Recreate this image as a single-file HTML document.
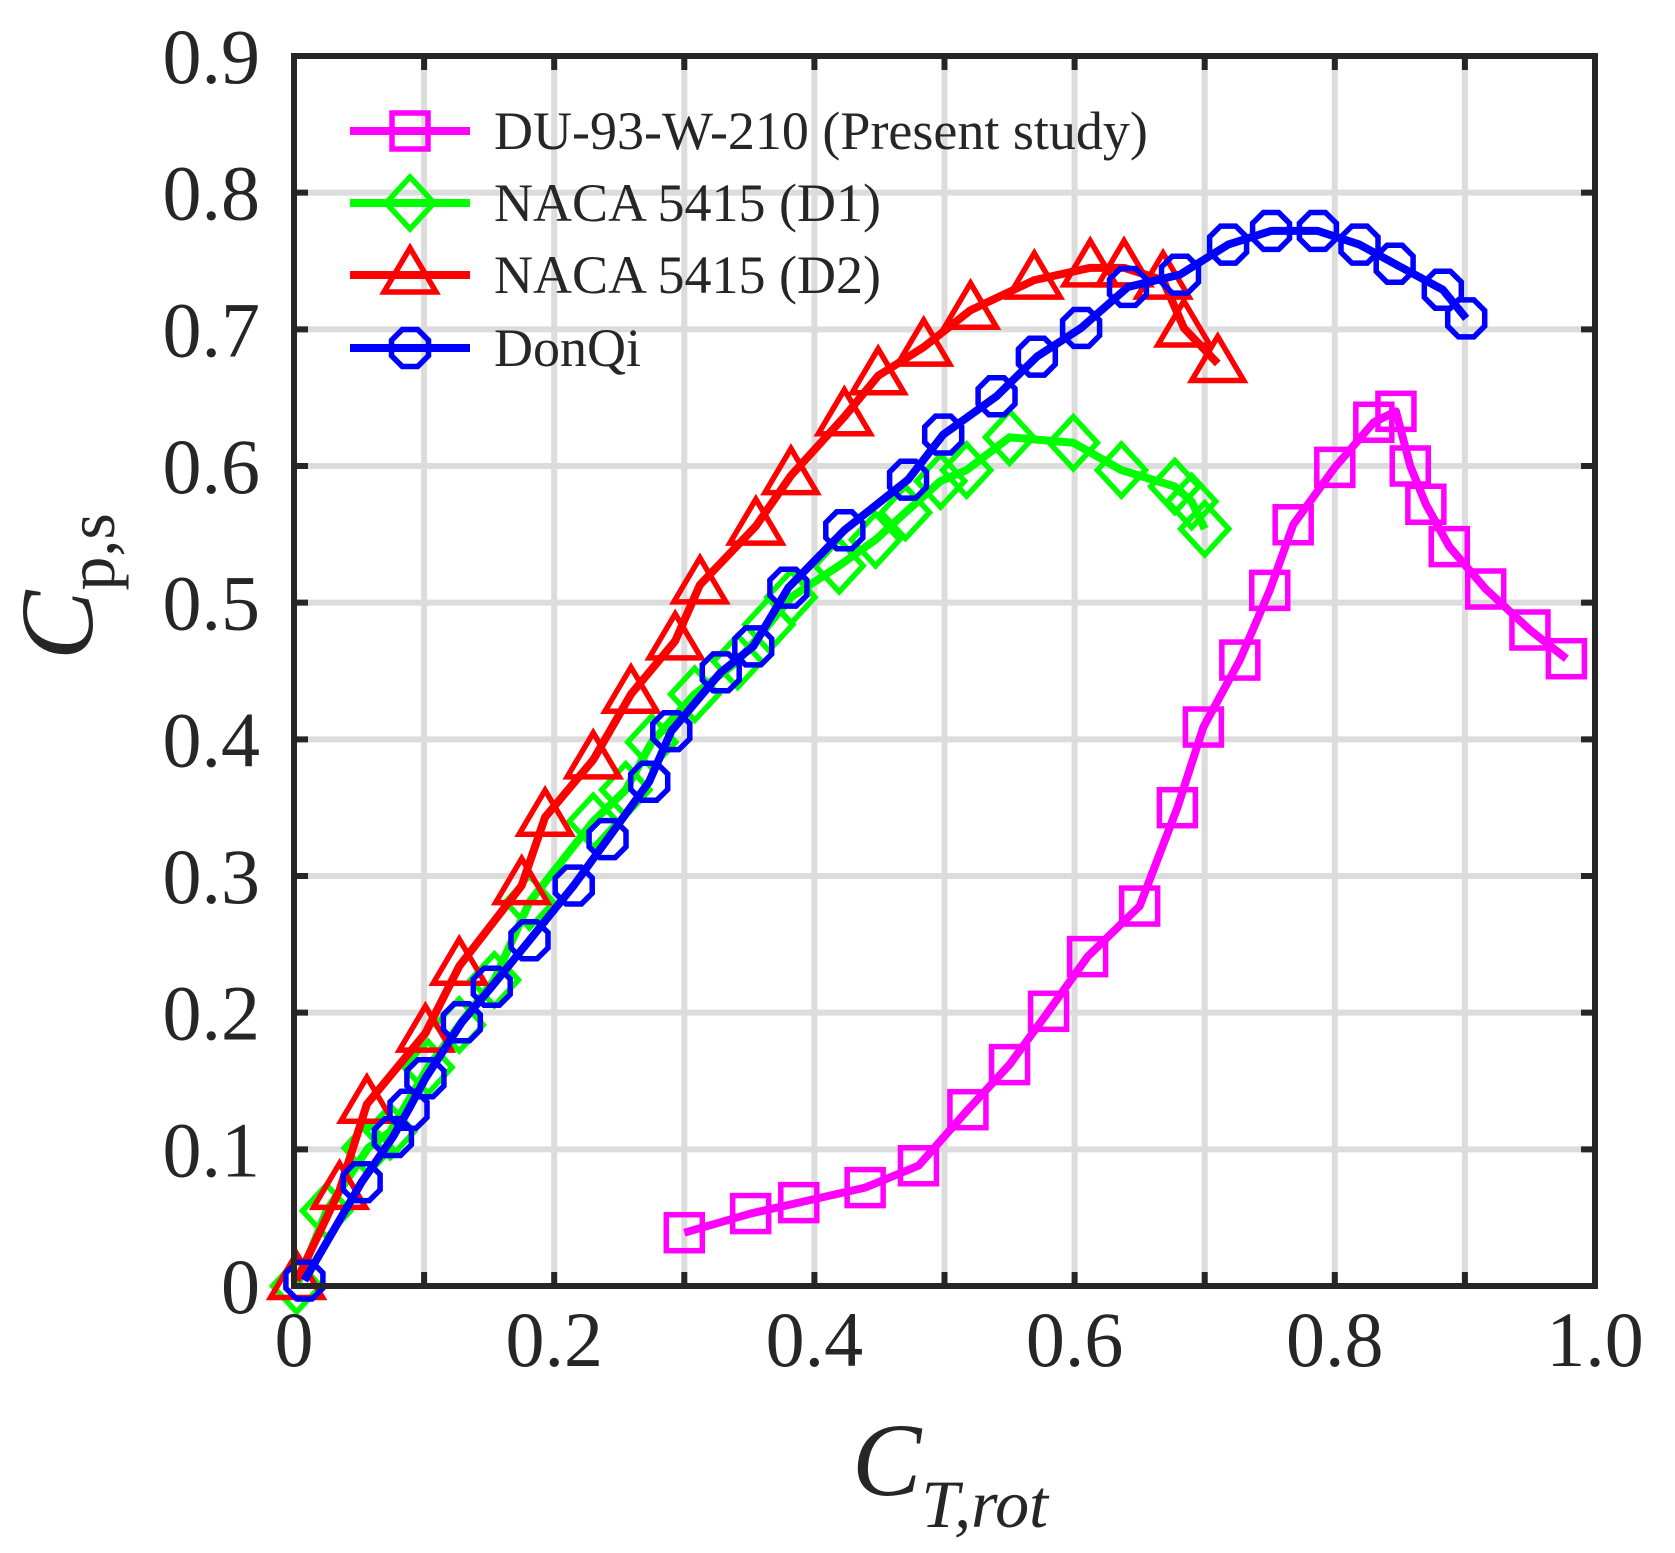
<!DOCTYPE html>
<html><head><meta charset="utf-8"><style>
html,body{margin:0;padding:0;background:#fff;}
svg{display:block;font-family:"Liberation Serif",serif;}
</style></head><body>
<svg id="chart" width="1675" height="1553" viewBox="0 0 1675 1553">
<g id="grid"></g>
<g id="series"></g>
<g id="axes"></g>
<g id="legend"></g>
<text transform="translate(92,660) rotate(-90)" font-size="104" fill="#262626"><tspan font-style="italic">C</tspan><tspan font-size="68" dy="22">p,s</tspan></text>
<text x="852" y="1495" font-size="104" fill="#262626" font-style="italic">C<tspan font-size="68" dy="32">T,rot</tspan></text>
</svg>
<script>
const xTicks=[0,0.1,0.2,0.3,0.4,0.5,0.6,0.7,0.8,0.9,1.0];
const xTickLabels=["0","","0.2","","0.4","","0.6","","0.8","","1.0"];
const yTicks=[0,0.1,0.2,0.3,0.4,0.5,0.6,0.7,0.8,0.9];
const yTickLabels=["0","0.1","0.2","0.3","0.4","0.5","0.6","0.7","0.8","0.9"];
const duX=[0.300,0.351,0.388,0.439,0.480,0.518,0.550,0.580,0.610,0.650,0.679,0.699,0.727,0.750,0.768,0.800,0.830,0.847,0.858,0.870,0.888,0.916,0.950,0.978];
const duY=[0.039,0.053,0.061,0.072,0.088,0.129,0.162,0.201,0.241,0.278,0.350,0.409,0.458,0.509,0.557,0.599,0.632,0.640,0.600,0.572,0.541,0.510,0.480,0.459];
const d1X=[0.002,0.025,0.057,0.074,0.103,0.127,0.154,0.181,0.230,0.255,0.275,0.308,0.341,0.365,0.382,0.419,0.447,0.470,0.497,0.517,0.550,0.599,0.636,0.677,0.690,0.700];
const d1Y=[0,0.055,0.101,0.113,0.160,0.191,0.224,0.281,0.340,0.363,0.398,0.433,0.457,0.484,0.504,0.527,0.546,0.566,0.589,0.597,0.621,0.617,0.597,0.585,0.574,0.554];
const d2X=[0.002,0.035,0.056,0.101,0.127,0.175,0.193,0.230,0.259,0.293,0.312,0.355,0.382,0.423,0.449,0.484,0.520,0.569,0.612,0.638,0.668,0.684,0.710];
const d2Y=[0.004,0.070,0.133,0.185,0.234,0.293,0.343,0.385,0.433,0.472,0.513,0.556,0.593,0.636,0.666,0.687,0.714,0.736,0.745,0.745,0.736,0.701,0.675];
const dqX=[0.008,0.052,0.076,0.088,0.101,0.129,0.152,0.181,0.215,0.241,0.273,0.290,0.328,0.353,0.380,0.423,0.472,0.499,0.540,0.571,0.605,0.641,0.681,0.718,0.751,0.787,0.819,0.846,0.883,0.901];
const dqY=[0.004,0.076,0.109,0.129,0.152,0.193,0.219,0.253,0.293,0.327,0.369,0.406,0.449,0.468,0.511,0.553,0.590,0.623,0.651,0.680,0.701,0.731,0.740,0.762,0.772,0.772,0.762,0.748,0.729,0.708];
const legendLabels=["DU-93-W-210 (Present study)","NACA 5415 (D1)","NACA 5415 (D2)","DonQi"];

const NS="http://www.w3.org/2000/svg";
const X0=294,X1=1595,Y0=1286,Y1=56;
const sx=v=>X0+(X1-X0)*v;
const sy=v=>Y0-(Y0-Y1)*v/0.9;
function mk(tag,attrs,parent){const e=document.createElementNS(NS,tag);for(const k in attrs)e.setAttribute(k,attrs[k]);parent.appendChild(e);return e;}
const grid=document.getElementById('grid'),axes=document.getElementById('axes'),ser=document.getElementById('series'),leg=document.getElementById('legend');
xTicks.forEach((t,i)=>{
  if(i>0&&i<xTicks.length-1){const l=mk('line',{x1:sx(t),x2:sx(t),y1:Y0,y2:Y1,stroke:'#dcdcdc','stroke-width':6},grid);
  
  }
  const tk=mk('path',{d:`M${sx(t)},${Y0}v-14M${sx(t)},${Y1}v14`,stroke:'#262626','stroke-width':6},axes);
  
  
  if(xTickLabels[i]){const tx=mk('text',{x:sx(t),y:1366,'text-anchor':'middle','font-size':78,fill:'#262626'},axes);tx.textContent=xTickLabels[i];
  
  }
});
yTicks.forEach((t,i)=>{
  if(i>0&&i<yTicks.length-1){const l=mk('line',{x1:X0,x2:X1,y1:sy(t),y2:sy(t),stroke:'#dcdcdc','stroke-width':6},grid);
  
  }
  const tk=mk('path',{d:`M${X0},${sy(t)}h14M${X1},${sy(t)}h-14`,stroke:'#262626','stroke-width':6},axes);
  
  
  const tx=mk('text',{x:260,y:sy(t)+27,'text-anchor':'end','font-size':78,fill:'#262626'},axes);tx.textContent=yTickLabels[i];
  
  
});
const box=mk('rect',{x:X0,y:Y1,width:X1-X0,height:Y0-Y1,fill:'none',stroke:'#262626','stroke-width':6},axes);



function marker(type,cx,cy,color,parent){
  let e;const r=20;
  if(type==='square')e=mk('rect',{x:cx-18,y:cy-18,width:36,height:36},parent);
  else if(type==='diamond')e=mk('polygon',{points:`${cx},${cy-26} ${cx+24},${cy} ${cx},${cy+26} ${cx-24},${cy}`},parent);
  else if(type==='triangle')e=mk('polygon',{points:`${cx},${cy-27} ${cx+26},${cy+17} ${cx-26},${cy+17}`},parent);
  else{let p=[];for(let k=0;k<8;k++){const a=Math.PI/8+k*Math.PI/4;p.push((cx+r*Math.cos(a)).toFixed(1)+','+(cy+r*Math.sin(a)).toFixed(1));}e=mk('polygon',{points:p.join(' ')},parent);}
  e.setAttribute('fill','none');e.setAttribute('stroke',color);e.setAttribute('stroke-width',5.5);
  return e;
}
const seriesDefs=[[duX,duY,'#ff00ff','square','du-93-w-210'],[d1X,d1Y,'#00ff00','diamond','naca-5415-d1'],[d2X,d2Y,'#ff0000','triangle','naca-5415-d2'],[dqX,dqY,'#0000ff','octagon','donqi']];
seriesDefs.forEach(([xs,ys,c,m,n])=>{
  const g=mk('g',{},ser);
  
  
  const pl=mk('polyline',{points:xs.map((x,i)=>sx(x)+','+sy(ys[i])).join(' '),fill:'none',stroke:c,'stroke-width':8,'stroke-linejoin':'round'},g);
  
  
  xs.forEach((x,i)=>{const e=marker(m,sx(x),sy(ys[i]),c,g);
    
    });
});
const rows=[131,203,275,348];
seriesDefs.forEach(([xs,ys,c,m,n],i)=>{
  const g=mk('g',{},leg);
  
  
  mk('line',{x1:350,x2:470,y1:rows[i],y2:rows[i],stroke:c,'stroke-width':8},g);
  marker(m,410,rows[i],c,g);
  const t=mk('text',{x:494,y:rows[i]+18,'font-size':54,fill:'#262626'},g);t.textContent=legendLabels[i];
});
</script>
</body></html>
